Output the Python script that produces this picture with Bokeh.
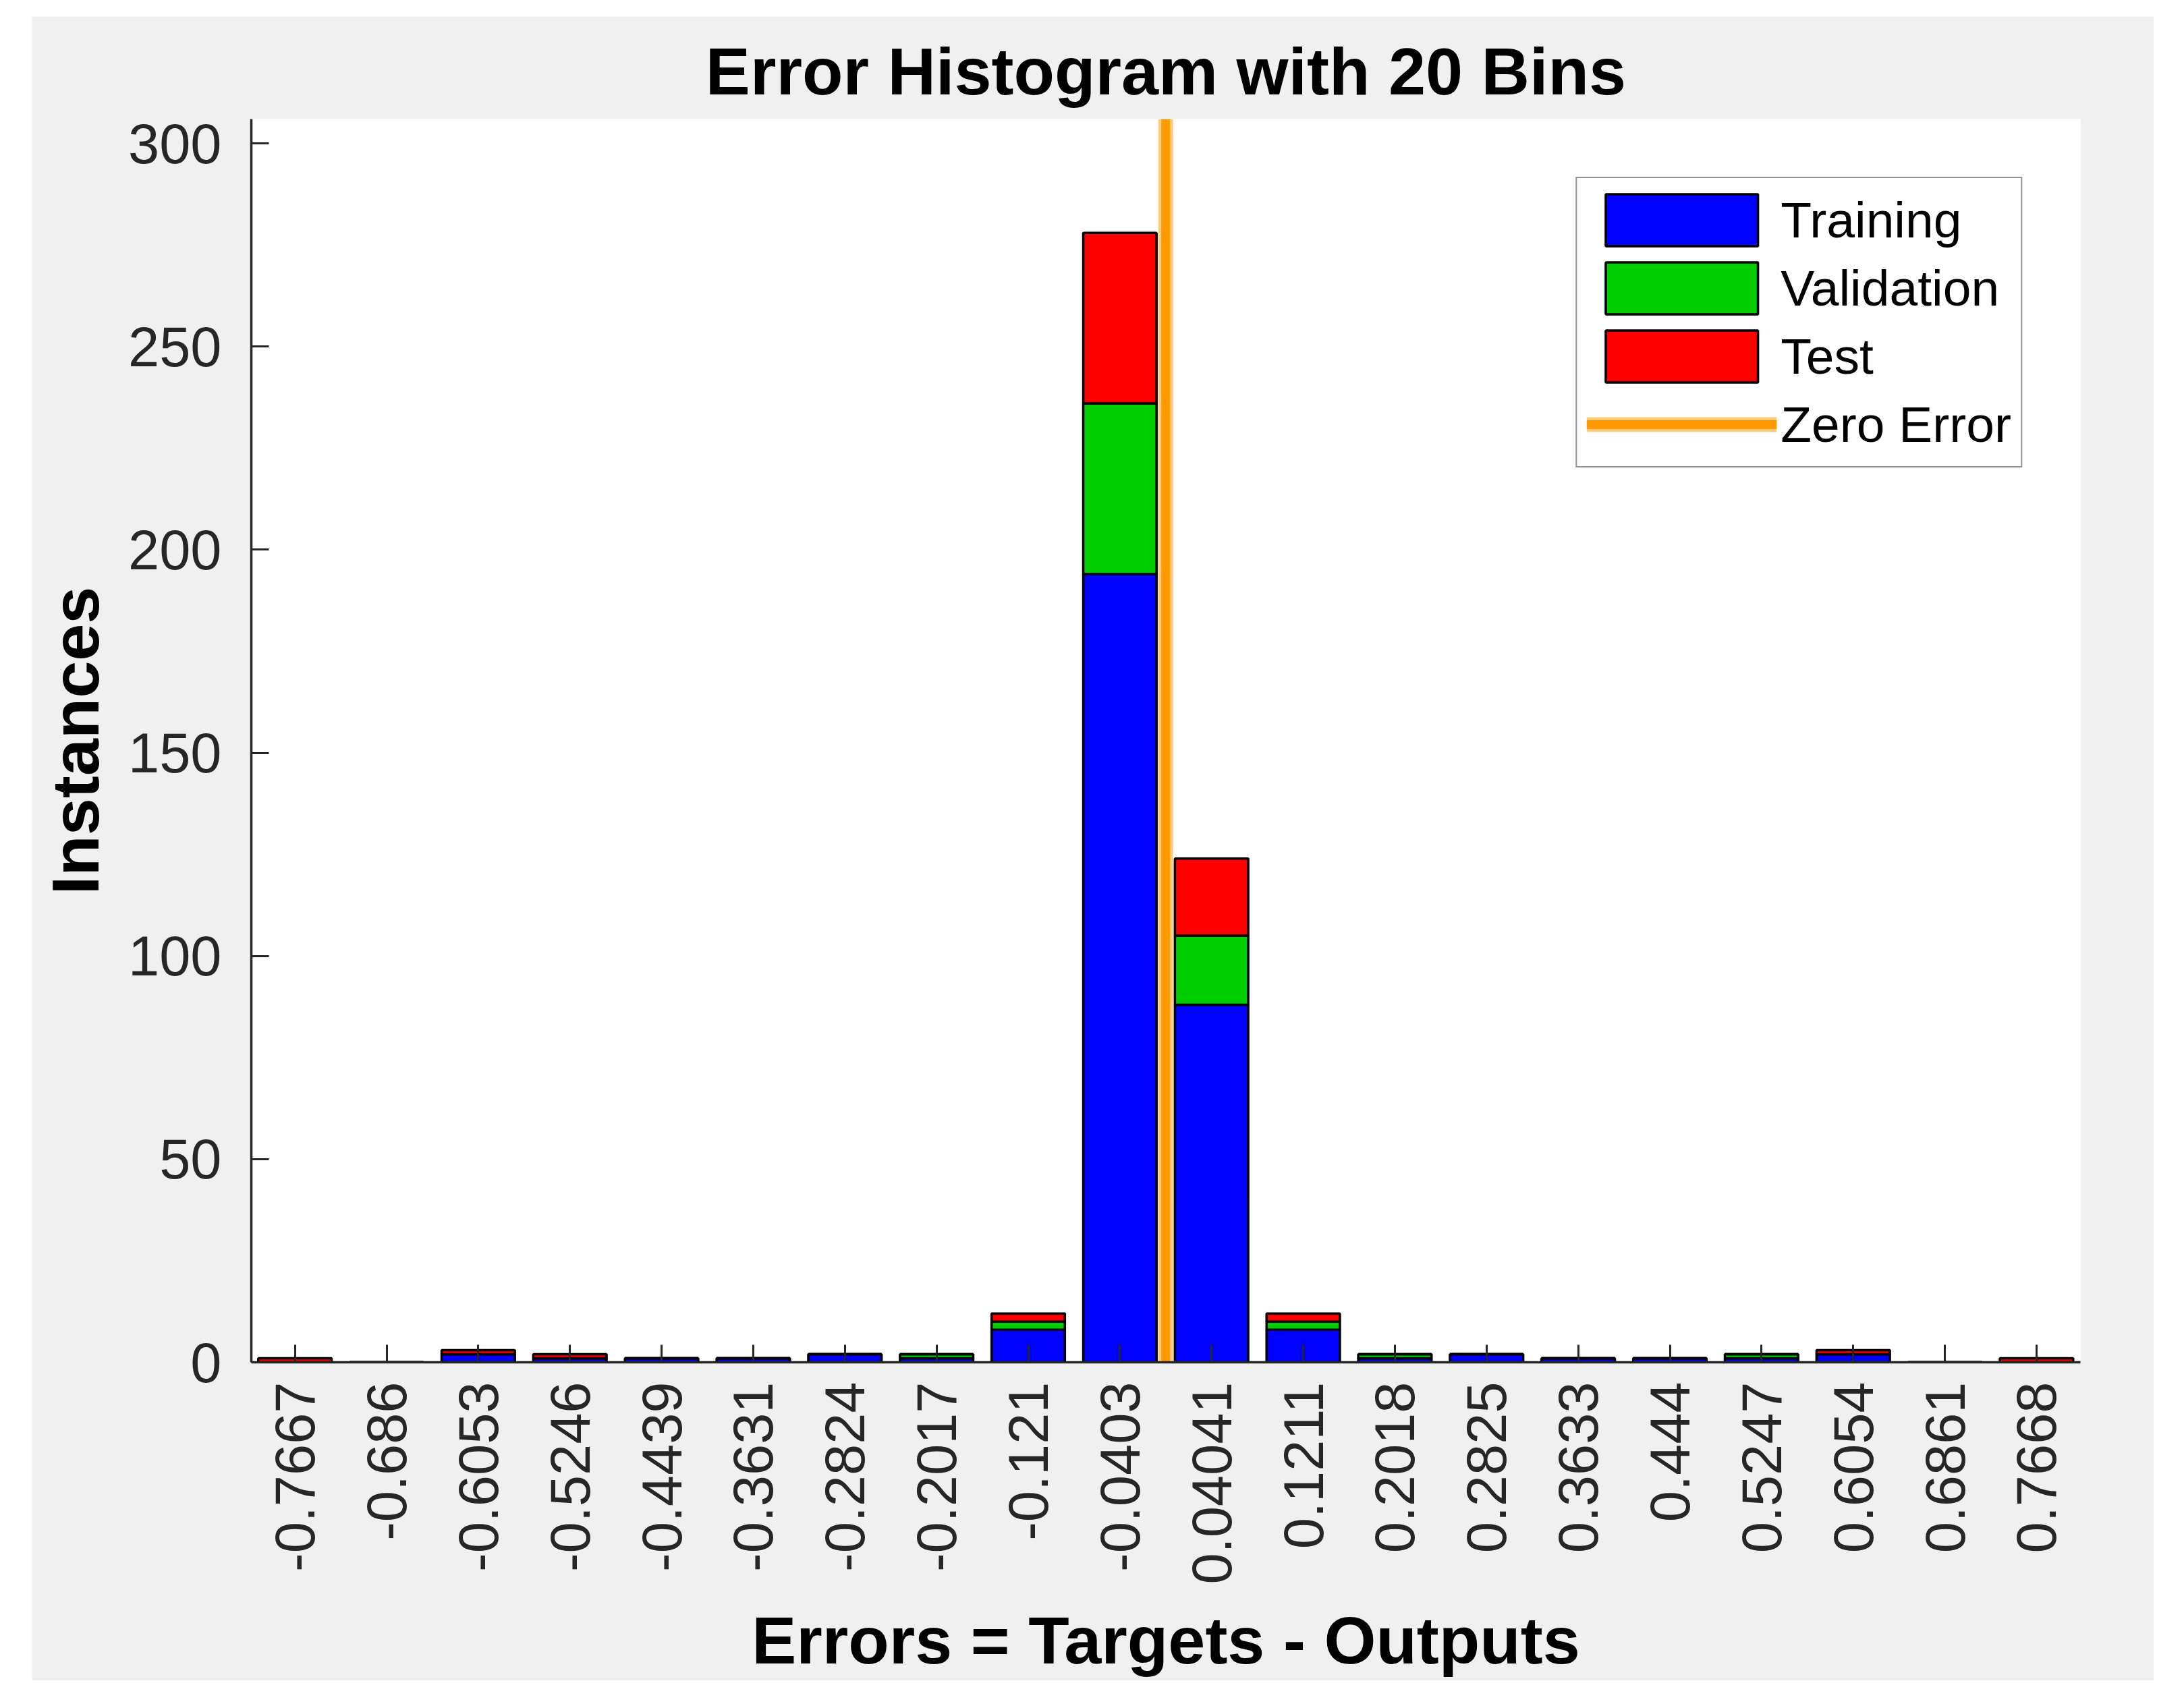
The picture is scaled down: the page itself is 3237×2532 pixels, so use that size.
import math
from bokeh.plotting import figure
from bokeh.models import ColumnDataSource, FixedTicker, Range1d, Legend, LegendItem, Spacer
from bokeh.layouts import row, column
from bokeh.embed import file_html
from bokeh.resources import INLINE

# ---------------- data ----------------
bin_labels = ["-0.7667", "-0.686", "-0.6053", "-0.5246", "-0.4439", "-0.3631",
              "-0.2824", "-0.2017", "-0.121", "-0.0403", "0.04041", "0.1211",
              "0.2018", "0.2825", "0.3633", "0.444", "0.5247", "0.6054",
              "0.6861", "0.7668"]
training   = [0, 0, 2, 1, 1, 1, 2, 1, 8, 194, 88, 8, 1, 2, 1, 1, 1, 2, 0, 0]
validation = [0, 0, 0, 0, 0, 0, 0, 1, 2, 42, 17, 2, 1, 0, 0, 0, 1, 0, 0, 0]
test       = [1, 0, 1, 1, 0, 0, 0, 0, 2, 42, 19, 2, 0, 0, 0, 0, 0, 1, 0, 1]
y_ticks = [0, 50, 100, 150, 200, 250, 300]
y_max = 306
zero_error = 0.0
series_names = ["Training", "Validation", "Test"]
series_colors = ["#0000ff", "#00cc00", "#ff0000"]
zero_color = "#ff9900"

# ---------------- derived ----------------
n = len(bin_labels)
idx = list(range(n))
centers = [float(s) for s in bin_labels]
zpos = 0.0
for i in range(n - 1):
    if centers[i] <= zero_error <= centers[i + 1]:
        zpos = i + (zero_error - centers[i]) / (centers[i + 1] - centers[i])

b1 = [0] * n
t1 = [training[i] for i in idx]
b2 = t1
t2 = [t1[i] + validation[i] for i in idx]
b3 = t2
t3 = [t2[i] + test[i] for i in idx]

src = ColumnDataSource(dict(x=idx, b1=b1, t1=t1, b2=b2, t2=t2, b3=b3, t3=t3))

FONT = "Liberation Sans"
TICK_COLOR = "#262626"

p = figure(width=3145, height=2467,
           x_range=Range1d(-0.476, n - 1 + 0.479),
           y_range=Range1d(0, y_max),
           output_backend="svg", toolbar_location=None,
           min_border_left=325, min_border_right=109,
           min_border_top=152, min_border_bottom=472,
           border_fill_color="#f0f0f0", background_fill_color="white",
           outline_line_color=None,
           title="Error Histogram with %d Bins" % n)

p.title.align = "center"
p.title.text_font = FONT
p.title.text_font_size = "99px"
p.title.text_font_style = "bold"
p.title.text_color = "#000000"
p.title.standoff = 32

p.xgrid.visible = False
p.ygrid.visible = False

bar_kw = dict(width=0.8, line_color="black", line_width=3.5, source=src)
r1 = p.vbar(x="x", bottom="b1", top="t1", fill_color=series_colors[0], **bar_kw)
r2 = p.vbar(x="x", bottom="b2", top="t2", fill_color=series_colors[1], **bar_kw)
r3 = p.vbar(x="x", bottom="b3", top="t3", fill_color=series_colors[2], **bar_kw)

zsrc = ColumnDataSource(dict(x0=[zpos], y0=[0], x1=[zpos], y1=[y_max]))
rz_glow = p.segment(x0="x0", y0="y0", x1="x1", y1="y1", source=zsrc,
                    line_color=zero_color, line_alpha=0.5, line_width=22)
rz = p.segment(x0="x0", y0="y0", x1="x1", y1="y1", source=zsrc,
               line_color=zero_color, line_width=13)

# axes
xa = p.xaxis[0]
xa.ticker = FixedTicker(ticks=idx)
xa.major_label_overrides = {i: bin_labels[i] for i in idx}
xa.major_label_orientation = math.pi / 2
xa.minor_tick_line_color = None
xa.major_tick_in = 26
xa.major_tick_out = 0
xa.major_label_standoff = 29
xa.axis_label = "Errors = Targets - Outputs"
xa.axis_label_standoff = 24

ya = p.yaxis[0]
ya.ticker = FixedTicker(ticks=y_ticks)
ya.minor_tick_line_color = None
ya.major_tick_in = 26
ya.major_tick_out = 0
ya.major_label_standoff = 44
ya.axis_label = "Instances"
ya.axis_label_standoff = 20

for ax in (xa, ya):
    ax.axis_line_color = TICK_COLOR
    ax.axis_line_width = 3.5
    ax.major_tick_line_color = TICK_COLOR
    ax.major_tick_line_width = 3
    ax.major_label_text_font = FONT
    ax.major_label_text_font_size = "83px"
    ax.major_label_text_color = TICK_COLOR
    ax.axis_label_text_font = FONT
    ax.axis_label_text_font_size = "99px"
    ax.axis_label_text_font_style = "bold"
    ax.axis_label_text_color = "#000000"

legend = Legend(items=[
    LegendItem(label=series_names[0], renderers=[r1]),
    LegendItem(label=series_names[1], renderers=[r2]),
    LegendItem(label=series_names[2], renderers=[r3]),
    LegendItem(label="Zero Error", renderers=[rz_glow, rz]),
], location="top_right")
legend.margin = 86
legend.padding = 14
legend.spacing = 5
legend.glyph_width = 282
legend.glyph_height = 96
legend.label_standoff = 6
legend.label_text_font = FONT
legend.label_text_font_size = "75px"
legend.label_text_color = "#000000"
legend.border_line_color = TICK_COLOR
legend.border_line_width = 2.5
legend.background_fill_color = "white"
legend.background_fill_alpha = 1.0
p.add_layout(legend)

layout = row(Spacer(width=47), column(Spacer(height=24), p))

open("out.html", "w").write(file_html(layout, INLINE))
